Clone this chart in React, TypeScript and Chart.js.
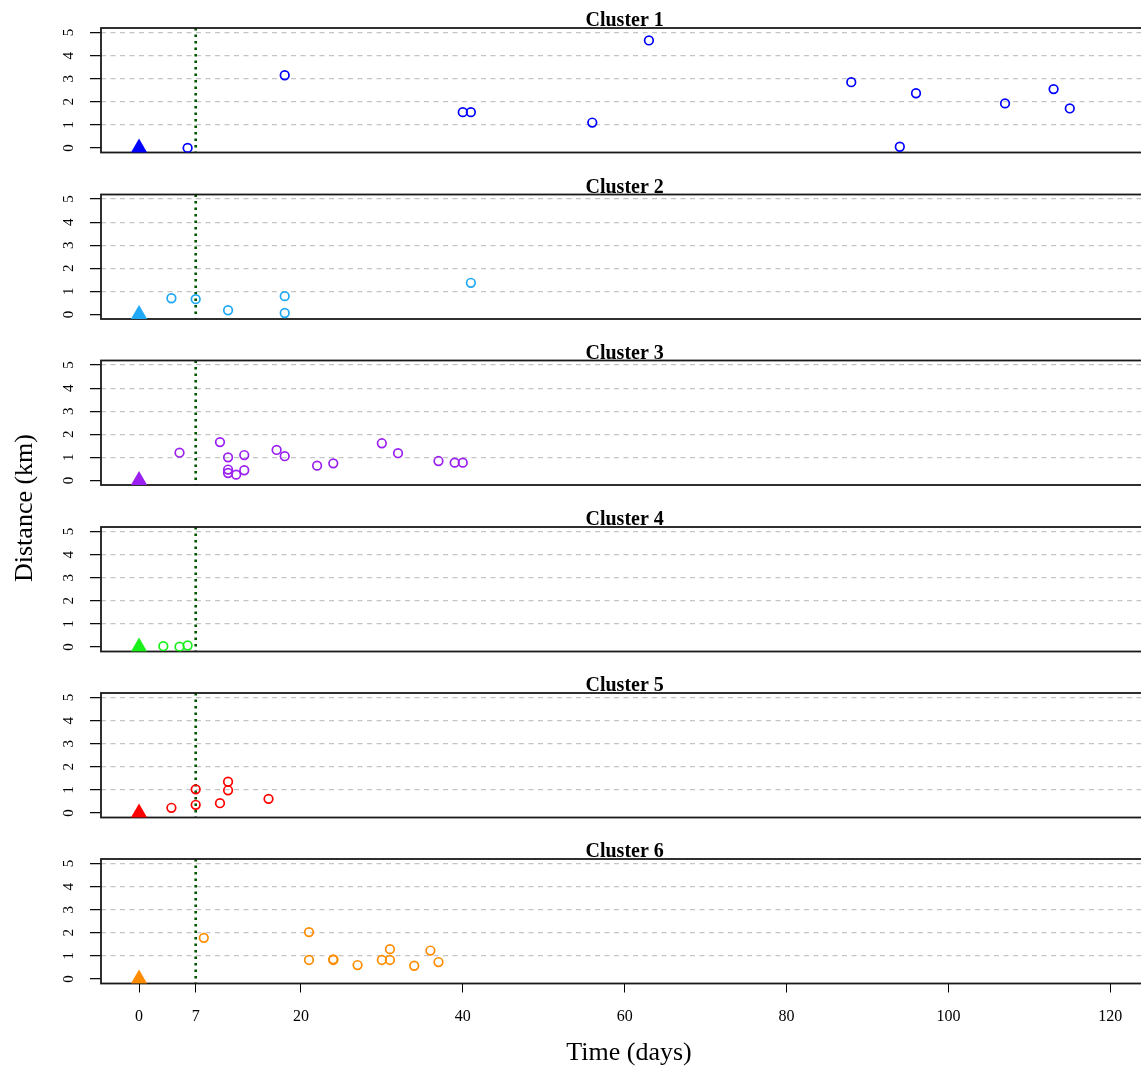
import React, { useEffect, useRef } from "react";
import { Chart, registerables } from "chart.js";

Chart.register(...registerables);

// ---------------- data ----------------
const X_TICKS = [0, 7, 20, 40, 60, 80, 100, 120];
const Y_TICKS = [0, 1, 2, 3, 4, 5];
const REFERENCE_DAY = 7;
const ORIGIN_DAY = 0;
const ORIGIN_DIST = 0;

const CLUSTER_NAMES = ["Cluster 1", "Cluster 2", "Cluster 3", "Cluster 4", "Cluster 5", "Cluster 6"];

const C1_DAYS = [6, 18, 40, 41, 56, 63, 88, 94, 96, 107, 113, 115];
const C1_DIST = [0.0, 3.15, 1.55, 1.55, 1.1, 4.66, 2.85, 0.05, 2.37, 1.93, 2.55, 1.71];

const C2_DAYS = [4, 7, 11, 18, 18, 41];
const C2_DIST = [0.7, 0.66, 0.18, 0.79, 0.06, 1.37];

const C3_DAYS = [5, 10, 11, 11, 11, 12, 13, 13, 17, 18, 22, 24, 30, 32, 37, 39, 40];
const C3_DIST = [1.2, 1.66, 1.0, 0.47, 0.32, 0.25, 1.1, 0.44, 1.32, 1.05, 0.64, 0.74, 1.61, 1.18, 0.84, 0.77, 0.77];

const C4_DAYS = [3, 5, 6];
const C4_DIST = [0.03, 0.01, 0.06];

const C5_DAYS = [4, 7, 7, 10, 11, 11, 16];
const C5_DIST = [0.22, 1.02, 0.35, 0.42, 1.35, 0.98, 0.61];

const C6_DAYS = [8, 21, 21, 24, 24, 27, 30, 31, 31, 34, 36, 37];
const C6_DIST = [1.78, 2.03, 0.82, 0.82, 0.85, 0.6, 0.82, 1.29, 0.82, 0.57, 1.23, 0.73];

const CLUSTER_DAYS = [C1_DAYS, C2_DAYS, C3_DAYS, C4_DAYS, C5_DAYS, C6_DAYS];
const CLUSTER_DIST = [C1_DIST, C2_DIST, C3_DIST, C4_DIST, C5_DIST, C6_DIST];

// ---------------- styles / layout ----------------
const CLUSTER_COLORS = ["#0000FF", "#1EA8F5", "#9A1FF0", "#19F019", "#FF0000", "#FF8C00"];
const W = 1141;
const H = 1068;
const PANEL_TOPS = [28, 194.5, 360.5, 527, 693, 859];
const PANEL_H = 124.5;
const PLOT_LEFT = 101;
const X_MIN = -4.7;
const X_MAX = 123.8;
const Y_MIN = -0.2;
const Y_MAX = 5.2;
const X_AXIS_H = 50;
const SERIF = "'Liberation Serif', 'Times New Roman', serif";

const panelDecor = {
  id: "panelDecor",
  beforeDatasetsDraw(chart: any, _args: any, opts: any) {
    const { ctx, chartArea: a, scales } = chart;
    ctx.save();
    const xr = scales.x.getPixelForValue(opts.refDay);
    ctx.strokeStyle = "#005500";
    ctx.lineWidth = 2.6;
    ctx.setLineDash([2.5, 4]);
    ctx.beginPath();
    ctx.moveTo(xr, a.top);
    ctx.lineTo(xr, a.bottom);
    ctx.stroke();
    ctx.setLineDash([]);
    ctx.strokeStyle = "#1a1a1a";
    ctx.lineWidth = 1.8;
    ctx.strokeRect(a.left, a.top, a.right - a.left + 20, a.bottom - a.top);
    ctx.restore();
  },
  afterDraw(chart: any, _args: any, opts: any) {
    const { ctx, chartArea: a, scales } = chart;
    ctx.save();
    ctx.fillStyle = "#000";
    ctx.font = `bold 20px ${SERIF}`;
    ctx.textAlign = "center";
    ctx.textBaseline = "alphabetic";
    ctx.fillText(opts.title, scales.x.getPixelForValue(60), a.top - 2);
    if (opts.axisTitles) {
      ctx.font = `26px ${SERIF}`;
      ctx.textBaseline = "middle";
      ctx.fillText("Time (days)", 629, 1053);
      ctx.translate(25, 508);
      ctx.rotate(-Math.PI / 2);
      ctx.fillText("Distance (km)", 0, 0);
    }
    ctx.restore();
  },
};

function Panel({ index }: { index: number }) {
  const ref = useRef<HTMLCanvasElement | null>(null);
  useEffect(() => {
    if (!ref.current) return;
    const isLast = index === 5;
    const color = CLUSTER_COLORS[index];
    const top = PANEL_TOPS[index];
    const bottomPad = H - (top + PANEL_H) - (isLast ? X_AXIS_H : 0);
    const days = CLUSTER_DAYS[index];
    const dist = CLUSTER_DIST[index];
    const chart = new Chart(ref.current, {
      type: "scatter",
      data: {
        datasets: [
          {
            data: days.map((d, i) => ({ x: d, y: dist[i] })),
            pointStyle: "circle",
            pointRadius: 4.3,
            pointHoverRadius: 4.3,
            pointBorderWidth: 1.7,
            pointBorderColor: color,
            pointBackgroundColor: "rgba(0,0,0,0)",
            borderColor: color,
            backgroundColor: "rgba(0,0,0,0)",
          },
          {
            data: [{ x: ORIGIN_DAY, y: ORIGIN_DIST }],
            pointStyle: "triangle",
            pointRadius: 9.5,
            pointHoverRadius: 9.5,
            pointBorderWidth: 0,
            pointBackgroundColor: color,
            pointBorderColor: color,
            backgroundColor: color,
            borderColor: color,
          },
        ],
      },
      options: {
        responsive: false,
        animation: false,
        events: [],
        layout: { autoPadding: false, padding: { top, bottom: bottomPad, left: 0, right: 0 } },
        plugins: {
          legend: { display: false },
          tooltip: { enabled: false },
          panelDecor: { title: CLUSTER_NAMES[index], refDay: REFERENCE_DAY, axisTitles: isLast },
        } as any,
        scales: {
          x: {
            type: "linear",
            min: X_MIN,
            max: X_MAX,
            display: isLast,
            afterBuildTicks: (s: any) => {
              s.ticks = X_TICKS.map((v) => ({ value: v }));
            },
            afterFit: (s: any) => {
              if (isLast) s.height = X_AXIS_H;
            },
            ticks: {
              autoSkip: false,
              maxRotation: 0,
              minRotation: 0,
              padding: 15,
              color: "#000",
              font: { family: SERIF, size: 16 },
            },
            grid: {
              drawOnChartArea: false,
              drawTicks: true,
              tickLength: 9,
              color: "#000",
              tickColor: "#000",
              lineWidth: 1,
            },
            border: { display: false },
          },
          y: {
            type: "linear",
            min: Y_MIN,
            max: Y_MAX,
            afterBuildTicks: (s: any) => {
              s.ticks = Y_TICKS.map((v) => ({ value: v }));
            },
            afterFit: (s: any) => {
              s.width = PLOT_LEFT;
            },
            ticks: {
              autoSkip: false,
              minRotation: 90,
              maxRotation: 90,
              crossAlign: "center",
              padding: 17,
              color: "#000",
              font: { family: SERIF, size: 15 },
            },
            grid: {
              drawOnChartArea: true,
              drawTicks: true,
              tickLength: 11,
              lineWidth: 1.3,
              color: (c: any) => (c.tick && c.tick.value === 0 ? "rgba(0,0,0,0)" : "#c4c4c4"),
              tickColor: "#000",
              tickWidth: 1.2,
              tickBorderDash: [],
            },
            border: { display: false, dash: [5, 4.5] },
          },
        },
      } as any,
      plugins: [panelDecor as any],
    });
    return () => chart.destroy();
  }, [index]);
  return (
    <canvas
      ref={ref}
      width={W}
      height={H}
      style={{ position: "absolute", left: 0, top: 0, width: W, height: H }}
    />
  );
}

export default function App() {
  return (
    <div>
      {CLUSTER_NAMES.map((_, i) => (
        <Panel key={i} index={i} />
      ))}
    </div>
  );
}
